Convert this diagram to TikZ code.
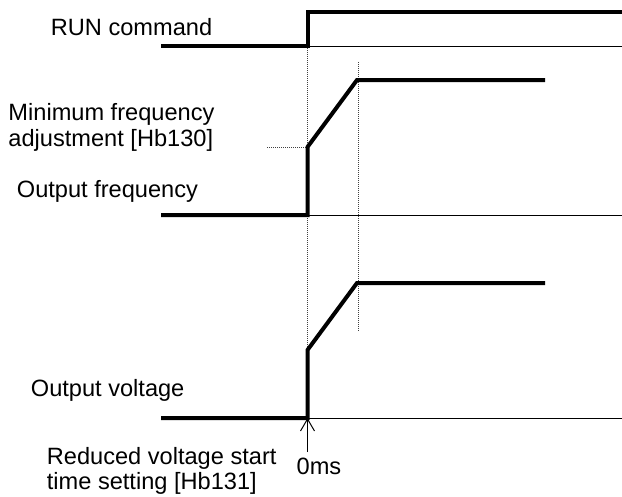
\documentclass[tikz,border=0pt]{standalone}
\usepackage{fontspec}
\setmainfont{Liberation Sans}
\usetikzlibrary{arrows.meta}
\begin{document}
\begin{tikzpicture}[x=1pt,y=-1pt,
  lbl/.style={anchor=base west,inner sep=0pt,font=\fontsize{23.6}{26.7}\selectfont},
  wave/.style={line width=4pt,line join=miter},
  base/.style={line width=1pt},
  guide/.style={line width=1pt,draw=black!75,dash pattern=on 1pt off 1pt}]
\useasboundingbox (0,0) rectangle (622,496);
% coordinates
\coordinate (r0) at (161,46);
\coordinate (r1) at (307.5,46);
\coordinate (r2) at (307.5,12);
\coordinate (r3) at (622,12);
\coordinate (r4) at (622,46);
\coordinate (f0) at (161,215);
\coordinate (f1) at (307.5,215);
\coordinate (f2) at (307.5,147);
\coordinate (f3) at (357,80);
\coordinate (f4) at (545,80);
\coordinate (f5) at (622,215);
\coordinate (fm) at (267,147);
\coordinate (v0) at (161,418);
\coordinate (v1) at (307.5,418);
\coordinate (v2) at (307.5,350);
\coordinate (v3) at (357,283);
\coordinate (v4) at (545,283);
\coordinate (v5) at (622,418);
\coordinate (g1) at (358,62);
\coordinate (g2) at (358,332);
\coordinate (a0) at (307.5,452);
% guides
\draw[guide] (r1) -- (v1);
\draw[guide] (g1) -- (g2);
\draw[guide] (fm) -- (f2);
% baselines
\draw[base] (r1) -- (r4);
\draw[base] (f1) -- (f5);
\draw[base] (v1) -- (v5);
% waveforms
\draw[wave] (r0) -- (r1) -- (r2) -- (r3);
\draw[wave] (f0) -- (f1) -- (f2) -- (f3) -- (f4);
\draw[wave] (v0) -- (v1) -- (v2) -- (v3) -- (v4);
% arrow
\draw[line width=1pt,-{Straight Barb[length=12pt,width=14pt]}] (a0) -- (v1);
% labels
\node[lbl] (run) at (50.7,35) {RUN command};
\node[lbl] (min1) at (8.3,120) {Minimum frequency};
\node[lbl] (min2) at (8.3,146.7) {adjustment [Hb130]};
\node[lbl] (ofreq) at (16.7,197) {Output frequency};
\node[lbl] (ovolt) at (30.7,396) {Output voltage};
\node[lbl] (red1) at (46.7,464.3) {Reduced voltage start};
\node[lbl] (red2) at (46.7,489.3) {time setting [Hb131]};
\node[lbl] (zero) at (296.5,474) {0ms};
\end{tikzpicture}
\end{document}
